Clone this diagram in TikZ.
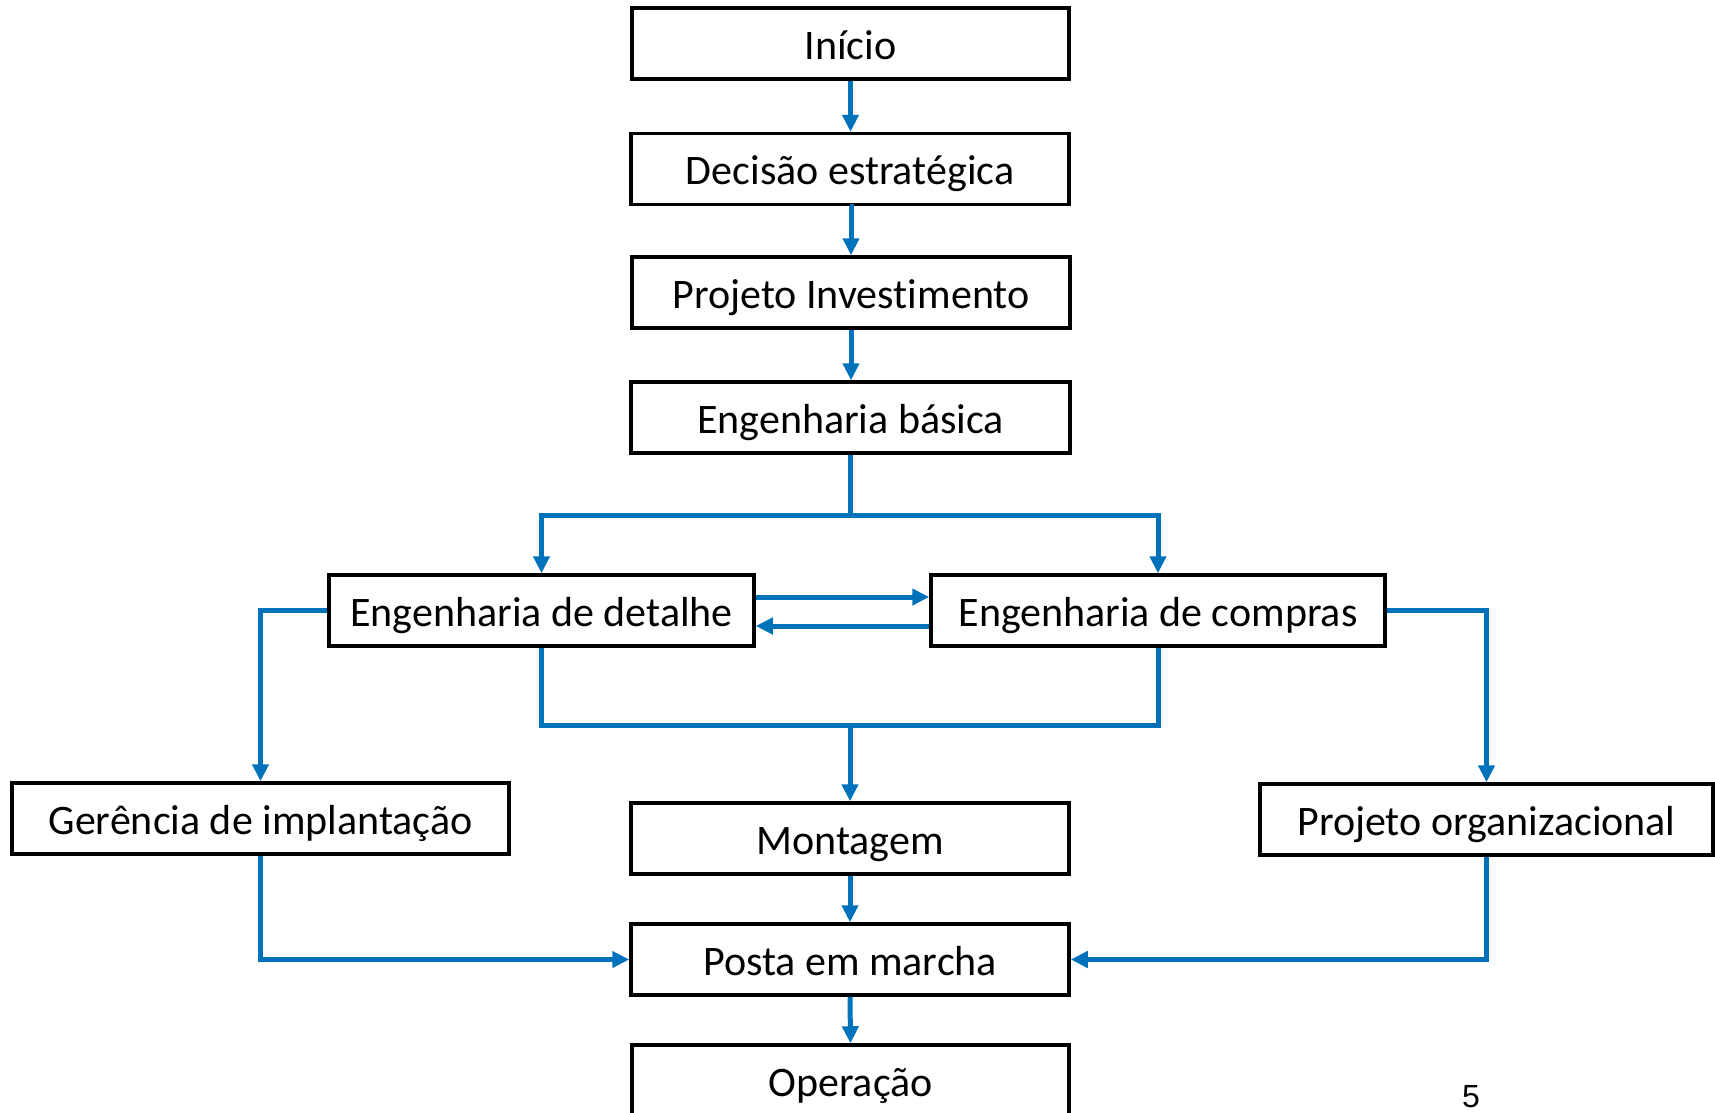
\documentclass[tikz,border=0pt]{standalone}
\usepackage{fontspec}
\setmainfont[Ligatures={NoCommon}]{Carlito}
\newfontfamily\pagenumfont{Liberation Sans}
\usetikzlibrary{arrows.meta,calc}
\definecolor{flowblue}{RGB}{0,114,187}
\tikzset{
  stepbox/.style={draw=black, line width=3.5pt, fill=white, inner sep=0pt,
    minimum height=71pt, text height=40pt, text depth=9pt,
    font=\fontsize{42}{50}\selectfont},
  flow/.style={draw=flowblue, line width=5pt, line join=miter},
  arr/.style={flow, -{Triangle[length=17pt,width=16pt]}},
}
\begin{document}
\begin{tikzpicture}[x=1pt,y=-1pt]
\useasboundingbox (0,0) rectangle (1715,1112);
\clip (0,0) rectangle (1715,1112);
% nodes
\node[stepbox, minimum width=437pt] (inicio)   at (850.5,43.5)  {Início};
\node[stepbox, minimum width=438pt] (decisao)  at (850,169)     {Decisão estratégica};
\node[stepbox, minimum width=438pt] (projinv)  at (851,292.5)   {Projeto Investimento};
\node[stepbox, minimum width=439pt] (basica)   at (850.5,417.5) {Engenharia básica};
\node[stepbox, minimum width=425pt] (detalhe)  at (541.5,610.5) {Engenharia de detalhe};
\node[stepbox, minimum width=454pt] (compras)  at (1158,610.5)  {Engenharia de compras};
\node[stepbox, minimum width=497pt] (gerencia) at (260.5,818.5) {Gerência de implantação};
\node[stepbox, minimum width=453pt] (projorg)  at (1486.5,819.5){Projeto organizacional};
\node[stepbox, minimum width=438pt] (montagem) at (850,838.5)   {Montagem};
\node[stepbox, minimum width=438pt] (posta)    at (850,959.5)   {Posta em marcha};
\node[stepbox, minimum width=437pt] (operacao) at (850.5,1080.5){Operação};
\node[font=\pagenumfont\fontsize{32}{38}\selectfont] (pagenum) at (1471,1097) {5};
% connectors
\draw[arr] (inicio.south) -- (inicio.south |- decisao.north);
\draw[arr] (decisao.south) -- (decisao.south -| projinv.north) -- (projinv.north);
\draw[arr] (projinv.south) -- (projinv.north |- basica.north);
\coordinate (split) at ($(basica.south)+(0,61)$);
\draw[flow] (basica.south) -- (split);
\draw[arr] (split) -| (detalhe.north);
\draw[arr] (split) -| (compras.north);
\draw[arr] ($(detalhe.east)+(0,-13.5)$) -- ($(compras.west)+(0,-13.5)$);
\draw[arr] ($(compras.west)+(0,15.5)$) -- ($(detalhe.east)+(0,15.5)$);
\coordinate (join) at ($(detalhe.south)+(0,78)$);
\draw[flow] (detalhe.south) -- (join) -| (compras.south);
\draw[arr] (montagem.north |- join) -- (montagem.north);
\draw[arr] (detalhe.west) -| (gerencia.north);
\draw[arr] (compras.east) -| (projorg.north);
\draw[arr] (montagem.south) -- (posta.north);
\draw[arr] (posta.south) -- (operacao.north);
\draw[arr] (gerencia.south) |- (posta.west);
\draw[arr] (projorg.south) |- (posta.east);
\end{tikzpicture}
\end{document}
